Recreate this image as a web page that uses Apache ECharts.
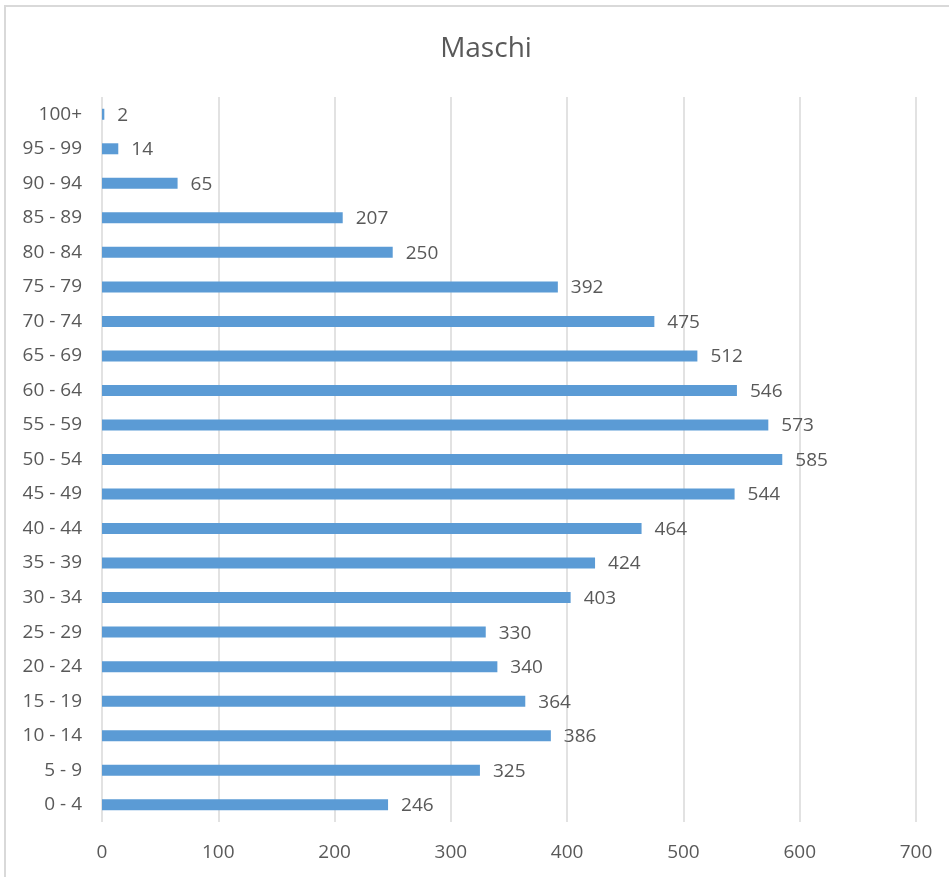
<!DOCTYPE html>
<html lang="it">
  <head>
    <meta charset="UTF-8" />
    <title>Maschi</title>
    <script src="https://cdn.jsdelivr.net/npm/echarts@6.0.0/dist/echarts.min.js"></script>
    <style>
      html, body { margin: 0; padding: 0; background: #fff; }
    </style>
  </head>
  <body>
    <div id="main" style="width: 949px; height: 877px"></div>
    <script type="text/javascript">
      // age groups, bottom to top
      const ageGroups = ['0 - 4', '5 - 9', '10 - 14', '15 - 19', '20 - 24', '25 - 29', '30 - 34',
        '35 - 39', '40 - 44', '45 - 49', '50 - 54', '55 - 59', '60 - 64', '65 - 69',
        '70 - 74', '75 - 79', '80 - 84', '85 - 89', '90 - 94', '95 - 99', '100+'];
      const males = [246, 325, 386, 364, 340, 330, 403, 424, 464, 544, 585, 573, 546, 512,
        475, 392, 250, 207, 65, 14, 2];
      const xTicks = [0, 100, 200, 300, 400, 500, 600, 700];

      const textColor = '#595959';
      const font = 'Open Sans';

      let myChart = echarts.init(document.getElementById('main'));

      let options = {
        backgroundColor: '#fff',
        animation: false,
        title: {
          text: 'Maschi',
          left: 481,
          top: 30,
          textAlign: 'center',
          textStyle: { color: textColor, fontFamily: font, fontSize: 28, fontWeight: 'normal' }
        },
        graphic: [{
          type: 'rect',
          shape: { x: 5, y: 6, width: 1000, height: 1000 },
          style: { fill: 'none', stroke: '#d9d9d9', lineWidth: 2 },
          silent: true
        }],
        grid: { left: 102, right: 33, top: 97, bottom: 55 },
        xAxis: {
          type: 'value',
          min: xTicks[0],
          max: xTicks[xTicks.length - 1],
          interval: 100,
          axisLine: { show: false },
          axisTick: { show: false },
          splitLine: { lineStyle: { color: '#d9d9d9', width: 1.5 } },
          axisLabel: { color: textColor, fontFamily: font, fontSize: 19, margin: 21 }
        },
        yAxis: {
          type: 'category',
          data: ageGroups,
          axisLine: { show: false },
          axisTick: { show: false },
          axisLabel: { color: textColor, fontFamily: font, fontSize: 19, margin: 20 }
        },
        series: [{
          name: 'Maschi',
          type: 'bar',
          data: males,
          barWidth: 11,
          itemStyle: { color: '#5b9bd5' },
          label: {
            show: true,
            position: 'right',
            distance: 13,
            color: textColor,
            fontFamily: font,
            fontSize: 19,
            offset: [0, 1]
          }
        }]
      };

      myChart.setOption(options);
    </script>
  </body>
</html>
